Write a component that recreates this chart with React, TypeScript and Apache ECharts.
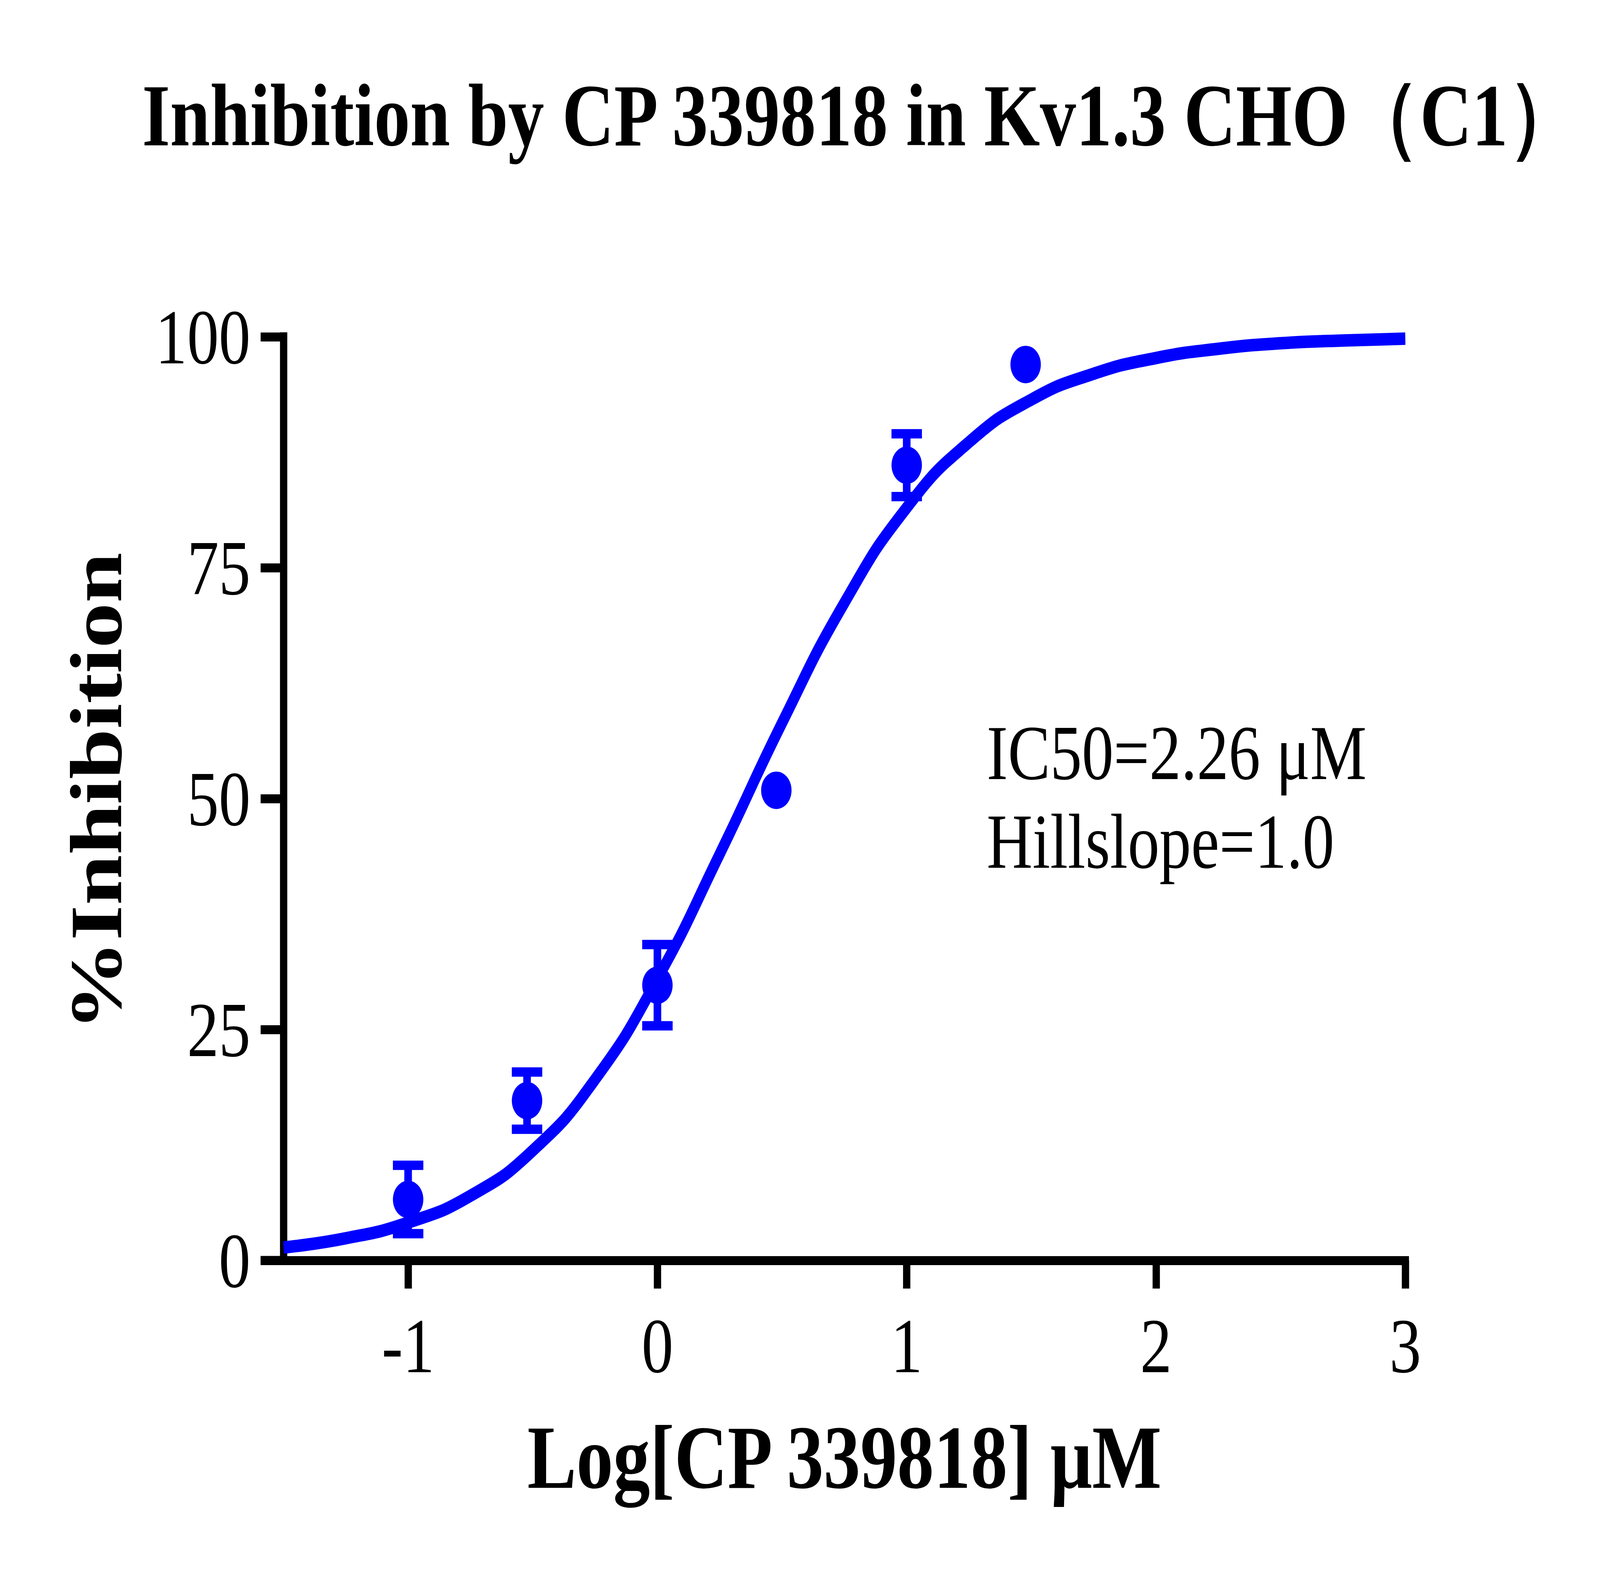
import React, { useEffect, useRef } from "react";
import * as echarts from "echarts";

// ---- data ----
const titleText = "Inhibition by CP 339818 in Kv1.3 CHO（C1）";
const xAxisTitle = "Log[CP 339818] μM";
const yAxisTitle = "%Inhibition";
const annotationLines = ["IC50=2.26 μM", "Hillslope=1.0"];

// measured points (log concentration, mean % inhibition, SEM)
const xLogConc = [-1, -0.523, 0, 0.477, 1, 1.477];
const meanInhibition = [6.6, 17.3, 29.8, 50.9, 86.1, 97.0];
const semInhibition = [3.7, 3.1, 4.4, 0, 3.4, 0];

// fitted curve
const curveX = [-1.5, -1.25, -1, -0.75, -0.5, -0.25, 0, 0.25, 0.5, 0.75, 1, 1.25, 1.5, 1.75, 2, 2.25, 2.5, 2.75, 3];
const curveY = [1.4, 2.4, 4.1, 7.0, 11.9, 19.6, 30.5, 44.0, 58.2, 71.2, 81.5, 88.6, 93.2, 96.0, 97.7, 98.7, 99.3, 99.6, 99.8];

const xTicks = [-1, 0, 1, 2, 3];
const yTicks = [0, 25, 50, 75, 100];

// ---- layout / style (in reference pixels, 5046 x 4026) ----
const W = 5046;
const H = 4026;
const GRID_LEFT = 894;
const GRID_TOP = 862;
const GRID_W = 3538;
const GRID_H = 2364;
const TICK_LEN = 72;
const AXIS_W = 23;
const BLUE = "#0000ff";
const FONT = "'Times New Roman', 'Liberation Serif', serif";

export default function App() {
  const ref = useRef<HTMLDivElement>(null);

  // the browser window may be narrower than the reference; fit the drawing into it
  const vw = typeof window !== "undefined" ? window.innerWidth : W;
  const vh = typeof window !== "undefined" ? window.innerHeight : H;
  const sx = Math.min(1, vw / W);
  const sy = Math.min(1, vh / H);

  useEffect(() => {
    document.body.style.margin = "0";
    document.body.style.overflow = "hidden";
    document.documentElement.style.overflow = "hidden";
    const chart = echarts.init(ref.current!, null, { renderer: "svg", width: W, height: H });

    const axisLineStyle = { color: "#000", width: AXIS_W, cap: "square" as const };

    const option: any = {
      animation: false,
      backgroundColor: "#fff",
      title: {
        text: titleText,
        left: 448,
        top: 180,
        padding: 0,
        textStyle: {
          fontSize: 227,
          lineHeight: 232,
          fontWeight: "bold",
          fontFamily: FONT,
          color: "#000",
        },
      },
      grid: { left: GRID_LEFT, top: GRID_TOP, width: GRID_W, height: GRID_H, containLabel: false },
      xAxis: {
        type: "value",
        min: -1.5,
        max: 3,
        name: xAxisTitle,
        nameLocation: "middle",
        nameGap: 388,
        nameTextStyle: { fontSize: 232, lineHeight: 232, fontWeight: "bold", fontFamily: FONT, color: "#000" },
        axisLine: { show: true, onZero: false, lineStyle: axisLineStyle },
        axisTick: { show: true, length: TICK_LEN, customValues: xTicks, lineStyle: { color: "#000", width: AXIS_W } },
        axisLabel: {
          customValues: xTicks,
          margin: 118,
          fontSize: 200,
          lineHeight: 200,
          fontFamily: FONT,
          color: "#000",
        },
        splitLine: { show: false },
      },
      yAxis: {
        type: "value",
        min: 0,
        max: 100,
        interval: 25,
        name: yAxisTitle,
        nameLocation: "middle",
        nameRotate: 90,
        nameGap: 474,
        nameTextStyle: {
          fontSize: 232,
          lineHeight: 232,
          fontWeight: "bold",
          fontFamily: FONT,
          color: "#000",
          padding: [0, 0, 0, 35],
        },
        axisLine: { show: true, onZero: false, lineStyle: axisLineStyle },
        axisTick: { show: true, length: TICK_LEN, lineStyle: { color: "#000", width: AXIS_W } },
        axisLabel: {
          customValues: yTicks,
          margin: 104,
          fontSize: 200,
          lineHeight: 200,
          fontFamily: FONT,
          color: "#000",
        },
        splitLine: { show: false },
      },
      graphic: [
        {
          type: "line",
          shape: {
            x1: GRID_LEFT - TICK_LEN,
            y1: GRID_TOP + GRID_H,
            x2: GRID_LEFT,
            y2: GRID_TOP + GRID_H,
          },
          style: { stroke: "#000", lineWidth: AXIS_W },
          z: 10,
        },
        {
          type: "text",
          left: 3112,
          top: 1813,
          style: {
            text: annotationLines.join("\n"),
            fontSize: 200,
            lineHeight: 227,
            fontFamily: FONT,
            fill: "#000",
          },
        },
      ],
      series: [
        {
          type: "line",
          data: curveX.map((x, i) => [x, curveY[i]]),
          smooth: 0.5,
          showSymbol: false,
          symbol: "none",
          lineStyle: { color: BLUE, width: 32 },
          z: 2,
        },
        {
          type: "custom",
          data: xLogConc.map((x, i) => [x, meanInhibition[i], semInhibition[i]]),
          encode: { x: 0, y: 1 },
          z: 3,
          renderItem: (params: any, api: any) => {
            const x = api.value(0);
            const m = api.value(1);
            const s = api.value(2);
            if (!s) return null;
            const top = api.coord([x, m + s]);
            const bot = api.coord([x, m - s]);
            const hw = 48;
            const style = { stroke: BLUE, lineWidth: 24 };
            return {
              type: "group",
              children: [
                { type: "line", shape: { x1: top[0], y1: top[1], x2: bot[0], y2: bot[1] }, style },
                { type: "line", shape: { x1: top[0] - hw, y1: top[1], x2: top[0] + hw, y2: top[1] }, style },
                { type: "line", shape: { x1: bot[0] - hw, y1: bot[1], x2: bot[0] + hw, y2: bot[1] }, style },
              ],
            };
          },
        },
        {
          type: "scatter",
          data: xLogConc.map((x, i) => [x, meanInhibition[i]]),
          symbol: "circle",
          symbolSize: 96,
          itemStyle: { color: BLUE, opacity: 1 },
          z: 4,
        },
      ],
    };

    chart.setOption(option);
    return () => chart.dispose();
  }, []);

  return (
    <div
      style={{
        position: "absolute",
        left: 0,
        top: 0,
        width: W,
        height: H,
        transform: `scale(${sx}, ${sy})`,
        transformOrigin: "0 0",
        background: "#fff",
      }}
    >
      <div ref={ref} style={{ width: W, height: H }} />
    </div>
  );
}
